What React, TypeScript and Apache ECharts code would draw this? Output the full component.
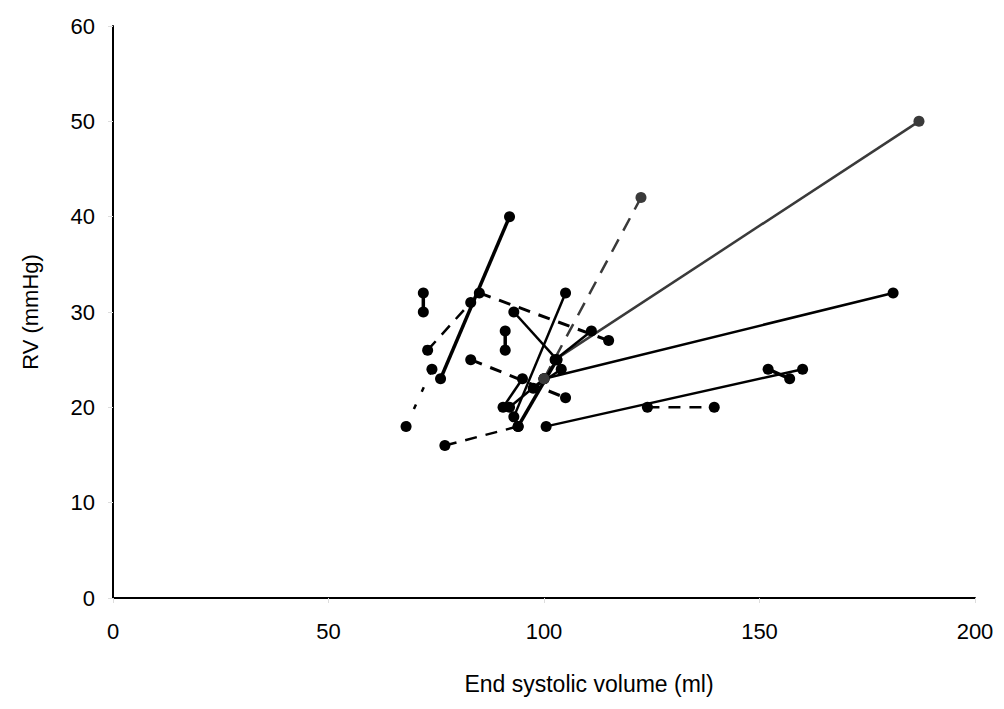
import React, { useEffect, useRef } from "react";
import * as echarts from "echarts";

// Each index is one subject: start point (a) and end point (b)
const esvA = [72, 68, 73, 76, 85, 91, 93, 83, 77, 93, 90.5, 92, 100, 102.6, 100, 102.6, 94, 100.5, 124, 152, 97.5];
const rvA = [32, 18, 26, 23, 32, 28, 30, 25, 16, 19, 20, 20, 23, 25, 23, 25, 18, 18, 20, 24, 22];
const esvB = [72, 74, 83, 92, 115, 91, 103, 105, 94, 105, 95, 100, 181, 187, 122.5, 111, 103, 160, 139.5, 157, 104];
const rvB = [30, 24, 31, 40, 27, 26, 25, 21, 18, 32, 23, 23, 32, 50, 42, 28, 25, 24, 20, 23, 24];
// line kind per subject: s = solid, S = thick solid, d = dashed, D = thick dashed, o = dotted, g = grey solid, gd = grey dashed
const kind = ["S", "o", "d", "S", "D", "S", "s", "D", "d", "s", "s", "s", "s", "g", "gd", "s", "S", "s", "d", "S", "s"];

const xTicks = [0, 50, 100, 150, 200];
const yTicks = [0, 10, 20, 30, 40, 50, 60];

const styleFor = (k: string) => {
  switch (k) {
    case "S": return { color: "#000", width: 3.5, type: "solid" as any };
    case "s": return { color: "#000", width: 2.5, type: "solid" as any };
    case "d": return { color: "#000", width: 2.5, type: [12, 9] as any };
    case "D": return { color: "#000", width: 3, type: [12, 9] as any };
    case "o": return { color: "#000", width: 2.5, type: [5, 14] as any };
    case "g": return { color: "#3a3a3a", width: 2.5, type: "solid" as any };
    case "gd": return { color: "#3a3a3a", width: 2.5, type: [14, 10] as any };
  }
  return { color: "#000", width: 2, type: "solid" as any };
};

const FONT = "Liberation Sans, Arial, sans-serif";

export default function App() {
  const ref = useRef<HTMLDivElement>(null);
  useEffect(() => {
    if (!ref.current) return;
    const chart = echarts.init(ref.current, undefined, { renderer: "svg" });
    const series = esvA.map((_, i) => {
      const ls = styleFor(kind[i]);
      return {
        type: "line",
        data: [[esvA[i], rvA[i]], [esvB[i], rvB[i]]],
        symbol: "circle",
        symbolSize: 11,
        showSymbol: true,
        itemStyle: { color: ls.color },
        lineStyle: ls,
        z: 3,
      };
    });
    chart.setOption({
      animation: false,
      backgroundColor: "#fff",
      grid: { left: 113, right: 29, top: 26, bottom: 111, containLabel: false },
      xAxis: {
        type: "value",
        min: 0,
        max: 200,
        interval: 50,
        name: "End systolic volume (ml)",
        nameLocation: "middle",
        nameGap: 74,
        nameTextStyle: { fontFamily: FONT, fontSize: 23, color: "#000", padding: [0, 0, 0, 90] },
        axisLine: { show: true, lineStyle: { color: "#000", width: 2 } },
        axisTick: { show: true, length: 5, lineStyle: { color: "#ddd" } },
        axisLabel: {
          fontFamily: FONT,
          fontSize: 22,
          color: "#000",
          margin: 22,
          formatter: (v: number) => (xTicks.includes(v) ? String(v) : ""),
        },
        splitLine: { show: false },
      },
      yAxis: {
        type: "value",
        min: 0,
        max: 60,
        interval: 10,
        name: "RV (mmHg)",
        nameLocation: "middle",
        nameGap: 72,
        nameTextStyle: { fontFamily: FONT, fontSize: 22, color: "#000" },
        axisLine: { show: true, lineStyle: { color: "#000", width: 2 } },
        axisTick: { show: true, length: 5, lineStyle: { color: "#ddd" } },
        axisLabel: {
          fontFamily: FONT,
          fontSize: 22,
          color: "#000",
          margin: 18,
          formatter: (v: number) => (yTicks.includes(v) ? String(v) : ""),
        },
        splitLine: { show: false },
      },
      series,
    });
    return () => chart.dispose();
  }, []);
  return <div ref={ref} style={{ width: 1004, height: 709, position: "absolute", left: 0, top: 0 }} />;
}
